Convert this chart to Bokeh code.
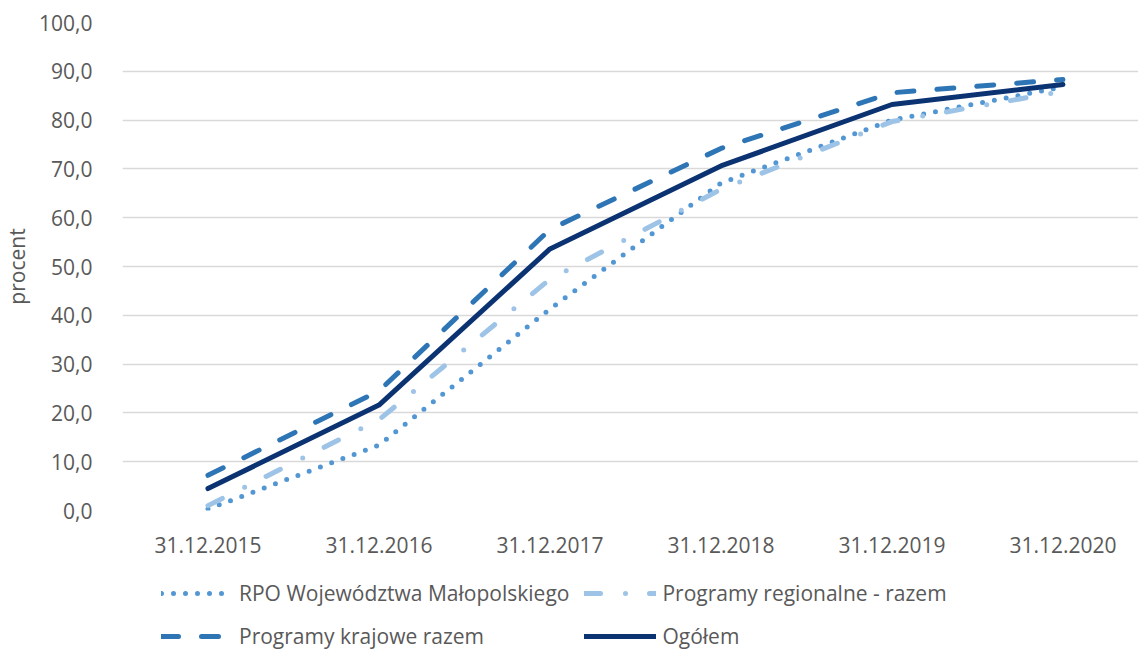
from bokeh.plotting import figure
from bokeh.layouts import column
from bokeh.models import Legend, LegendItem, FixedTicker, Range1d
from bokeh.embed import file_html
from bokeh.resources import INLINE

categories = ["31.12.2015", "31.12.2016", "31.12.2017", "31.12.2018", "31.12.2019", "31.12.2020"]
rpo_malopolska = [0.3, 13.4, 41.3, 67.1, 80.0, 86.8]
regionalne_razem = [1.0, 18.6, 47.4, 65.8, 79.7, 85.9]
krajowe_razem = [7.2, 24.5, 57.6, 74.2, 85.6, 88.3]
ogolem = [4.5, 21.6, 53.6, 70.6, 83.2, 87.3]
y_ticks = [0, 10, 20, 30, 40, 50, 60, 70, 80, 90, 100]
y_tick_labels = ["0,0", "10,0", "20,0", "30,0", "40,0", "50,0", "60,0", "70,0", "80,0", "90,0", "100,0"]
series_names = ["RPO Województwa Małopolskiego", "Programy regionalne - razem",
                "Programy krajowe razem", "Ogółem"]

FONT = "Open Sans"
GREY = "#595959"
STYLES = [
    dict(line_color="#5296d3", line_width=5, line_dash="0 12", line_cap="round"),
    dict(line_color="#9dc3e6", line_width=5, line_dash="16 25 0 24", line_cap="round"),
    dict(line_color="#2e75b6", line_width=5, line_dash="17 23", line_cap="round"),
    dict(line_color="#0b3372", line_width=5, line_cap="round", line_join="round"),
]
SERIES = [rpo_malopolska, regionalne_razem, krajowe_razem, ogolem]

x = list(range(len(categories)))

p = figure(width=1138, height=570, output_backend="svg", toolbar_location=None,
           x_range=Range1d(-0.5, 5.442), y_range=Range1d(0, 100),
           min_border_left=119, min_border_top=22, min_border_right=0, min_border_bottom=60)
p.outline_line_color = None
p.background_fill_color = "white"
p.border_fill_color = "white"

p.xgrid.grid_line_color = None
p.ygrid.grid_line_color = "#d9d9d9"
p.ygrid.grid_line_width = 1.5

p.xaxis.ticker = FixedTicker(ticks=x)
p.xaxis.major_label_overrides = {i: c for i, c in enumerate(categories)}
p.yaxis.ticker = FixedTicker(ticks=y_ticks)
p.yaxis.major_label_overrides = {t: l for t, l in zip(y_ticks, y_tick_labels)}
for ax in (p.xaxis[0], p.yaxis[0]):
    ax.axis_line_color = None
    ax.major_tick_line_color = None
    ax.minor_tick_line_color = None
    ax.major_label_text_font = FONT
    ax.major_label_text_font_size = "21px"
    ax.major_label_text_color = GREY
p.xaxis.major_label_standoff = 20
p.yaxis.major_label_standoff = 24
p.yaxis.axis_label = "procent"
p.yaxis.axis_label_text_font = FONT
p.yaxis.axis_label_text_font_size = "21px"
p.yaxis.axis_label_text_font_style = "normal"
p.yaxis.axis_label_text_color = GREY
p.yaxis.axis_label_standoff = 5

for ys, st in zip(SERIES, STYLES):
    p.line(x, ys, **st)

# legend strip below the chart (its lines lie outside its view; only the legend shows)
pl = figure(width=1138, height=80, output_backend="svg", toolbar_location=None,
            x_range=Range1d(-200, -199), y_range=Range1d(-200, -199),
            x_axis_type=None, y_axis_type=None,
            min_border_left=0, min_border_right=0, min_border_top=0, min_border_bottom=0)
pl.outline_line_color = None
pl.grid.grid_line_color = None
items = []
for name, ys, st in zip(series_names, SERIES, STYLES):
    r = pl.line(x, ys, **st)
    items.append(LegendItem(label=name, renderers=[r]))

legend = Legend(items=items, orientation="horizontal", ncols=2,
                location=(39, 0), label_text_font=FONT, label_text_font_size="21px",
                label_text_color=GREY, glyph_width=72, glyph_height=24, label_height=24,
                label_standoff=6, spacing=15, padding=0, margin=0,
                border_line_color=None, background_fill_alpha=0)
pl.add_layout(legend, "center")

layout = column(p, pl)
open("out.html", "w").write(file_html(layout, INLINE))
